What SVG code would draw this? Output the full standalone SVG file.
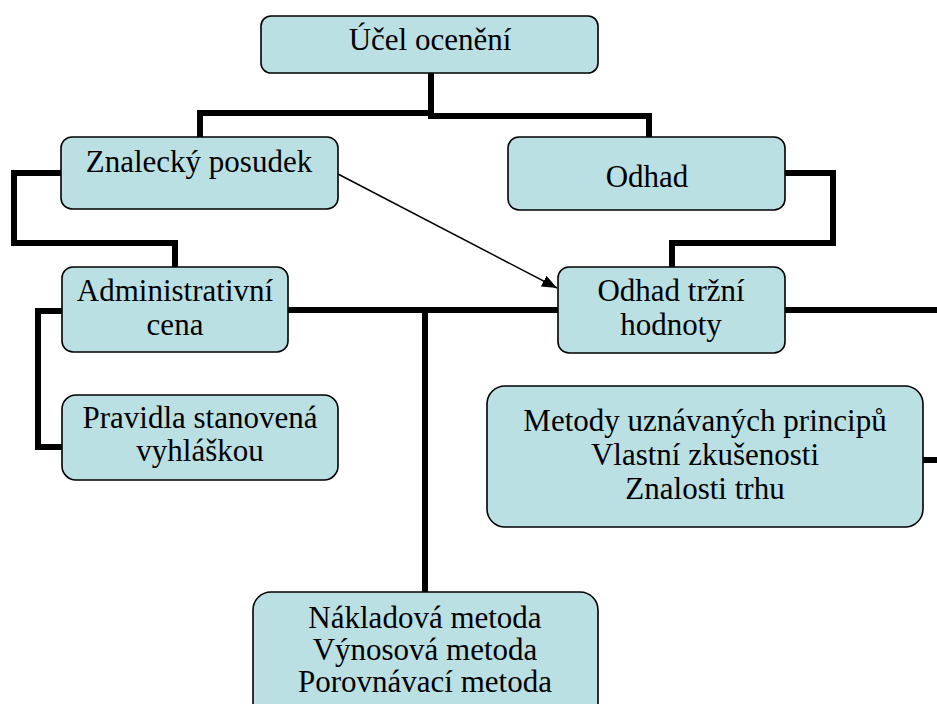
<svg xmlns="http://www.w3.org/2000/svg" width="937" height="704" viewBox="0 0 937 704">
<style>
.box{fill:#BAE0E3;stroke:#000;stroke-width:1.6}
.t{font-family:"Liberation Serif","Times New Roman","DejaVu Serif",serif;font-size:31px;fill:#000;text-anchor:middle}
.c{fill:none;stroke:#000;stroke-width:6;stroke-linejoin:miter;stroke-linecap:butt}
.a{fill:none;stroke:#000;stroke-width:1.5}
</style>
<defs>
<marker id="arr" markerUnits="userSpaceOnUse" markerWidth="16" markerHeight="12" refX="15" refY="6" orient="auto">
<path d="M0,0 L15,6 L0,12 Z" fill="#000"/>
</marker>
</defs>
<rect width="937" height="704" fill="#fff"/>
<g id="connectors">
<polyline class="c" points="431,73 431,116"/>
<polyline class="c" points="434,113 200,113 200,137"/>
<polyline class="c" points="428,116 649,116 649,137"/>
<polyline class="c" points="61,173 14,173 14,243 175,243 175,267"/>
<polyline class="c" points="785,173 833,173 833,243 672,243 672,267"/>
<polyline class="c" points="62,311 38,311 38,447 62,447"/>
<polyline class="c" points="288,310 558,310"/>
<polyline class="c" points="785,310 937,310"/>
<polyline class="c" points="425,310 425,592"/>
<polyline class="c" points="923,460 937,460"/>
<line class="a" x1="338" y1="174" x2="557" y2="288" marker-end="url(#arr)"/>
</g>
<g id="ucel">
<rect class="box" x="261" y="16" width="337" height="57" rx="10"/>
<text class="t" x="430" y="50" font-family="Liberation Serif, serif">Účel ocenění</text>
</g>
<g id="znalecky">
<rect class="box" x="61" y="137" width="277" height="72" rx="11"/>
<text class="t" x="199" y="172">Znalecký posudek</text>
</g>
<g id="odhad">
<rect class="box" x="508" y="137" width="277" height="73" rx="11"/>
<text class="t" x="647" y="187">Odhad</text>
</g>
<g id="administrativni">
<rect class="box" x="62" y="267" width="226" height="85" rx="11"/>
<text class="t" x="175" y="301">Administrativní</text>
<text class="t" x="175" y="335">cena</text>
</g>
<g id="odhad-trzni">
<rect class="box" x="558" y="267" width="227" height="86" rx="11"/>
<text class="t" x="671" y="301">Odhad tržní</text>
<text class="t" x="671" y="335">hodnoty</text>
</g>
<g id="pravidla">
<rect class="box" x="62" y="395" width="276" height="85" rx="14"/>
<text class="t" x="200" y="428">Pravidla stanovená</text>
<text class="t" x="200" y="461">vyhláškou</text>
</g>
<g id="metody">
<rect class="box" x="487" y="386" width="436" height="141" rx="18"/>
<text class="t" x="705" y="431">Metody uznávaných principů</text>
<text class="t" x="705" y="465">Vlastní zkušenosti</text>
<text class="t" x="705" y="499">Znalosti trhu</text>
</g>
<g id="nakladova">
<rect class="box" x="253" y="592" width="345" height="130" rx="18"/>
<text class="t" x="425" y="628">Nákladová metoda</text>
<text class="t" x="425" y="660">Výnosová metoda</text>
<text class="t" x="425" y="692">Porovnávací metoda</text>
</g>
</svg>
